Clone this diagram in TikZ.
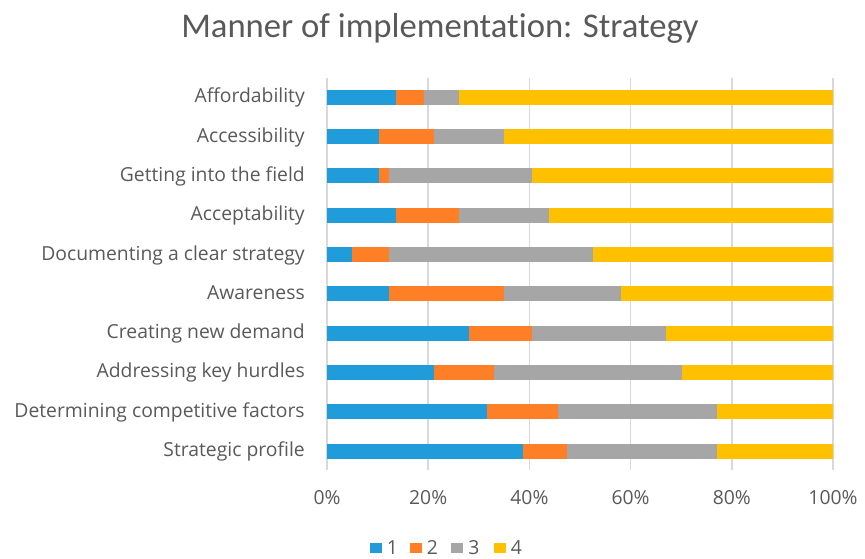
\documentclass[tikz,border=0pt]{standalone}
\usepackage{fontspec}
\setmainfont{Open Sans}[Ligatures=NoCommon]
\newfontfamily\titlefont{Carlito}[Ligatures=NoCommon]
\definecolor{txt}{HTML}{595959}
\definecolor{gridc}{HTML}{D9D9D9}
\definecolor{cA}{HTML}{1F9CD9}
\definecolor{cB}{HTML}{FF7F27}
\definecolor{cC}{HTML}{A6A6A6}
\definecolor{cD}{HTML}{FFC000}
\begin{document}
\begin{tikzpicture}[x=0.75pt,y=-0.75pt,
  lbl/.style={text=txt,inner sep=0pt,font=\fontsize{14.5}{17}\selectfont},
  gridline/.style={draw=gridc,line width=1.1pt},
  bar/.style={draw=none}]
\useasboundingbox (0,0) rectangle (865,558);
\node[text=txt,font=\titlefont\fontsize{26}{30}\selectfont] (title) at (440,28) {Manner of implementation: Strategy};
% gridlines and tick labels
\foreach \p in {0,20,40,60,80,100}{
  \draw[gridline] (327+5.06*\p,78) -- (327+5.06*\p,470);
  \node[lbl,anchor=base] (tick\p) at (327+5.06*\p,504.5) {\p\%};
}
% bars
\foreach \i/\a/\b/\c/\name in {
  1/13.7/19.2/26.1/Affordability,
  2/10.3/21.1/34.9/Accessibility,
  3/10.3/12.3/40.5/Getting into the field,
  4/13.7/26.1/43.8/Acceptability,
  5/4.9/12.3/52.6/Documenting a clear strategy,
  6/12.3/35.0/58.1/Awareness,
  7/28.0/40.5/66.9/Creating new demand,
  8/21.1/33.1/70.2/Addressing key hurdles,
  9/31.7/45.6/77.1/Determining competitive factors,
  10/38.7/47.5/77.1/Strategic profile}{
  \pgfmathsetmacro{\yc}{97.3+(\i-1)*39.3}
  \fill[cA] (327,\yc-7.5) rectangle (327+5.06*\a,\yc+7.5);
  \fill[cB] (327+5.06*\a,\yc-7.5) rectangle (327+5.06*\b,\yc+7.5);
  \fill[cC] (327+5.06*\b,\yc-7.5) rectangle (327+5.06*\c,\yc+7.5);
  \fill[cD] (327+5.06*\c,\yc-7.5) rectangle (833,\yc+7.5);
  \node[lbl,anchor=base east] (cat\i) at (305,\yc+5.5) {\name};
}
% legend
\foreach \k/\col/\x in {1/cA/369.5,2/cB/409.5,3/cC/451,4/cD/493.5}{
  \fill[\col] (\x,543.3) rectangle (\x+12,553.3);
  \node[lbl,anchor=base west] (leg\k) at (\x+17,554) {\k};
}
\end{tikzpicture}
\end{document}
